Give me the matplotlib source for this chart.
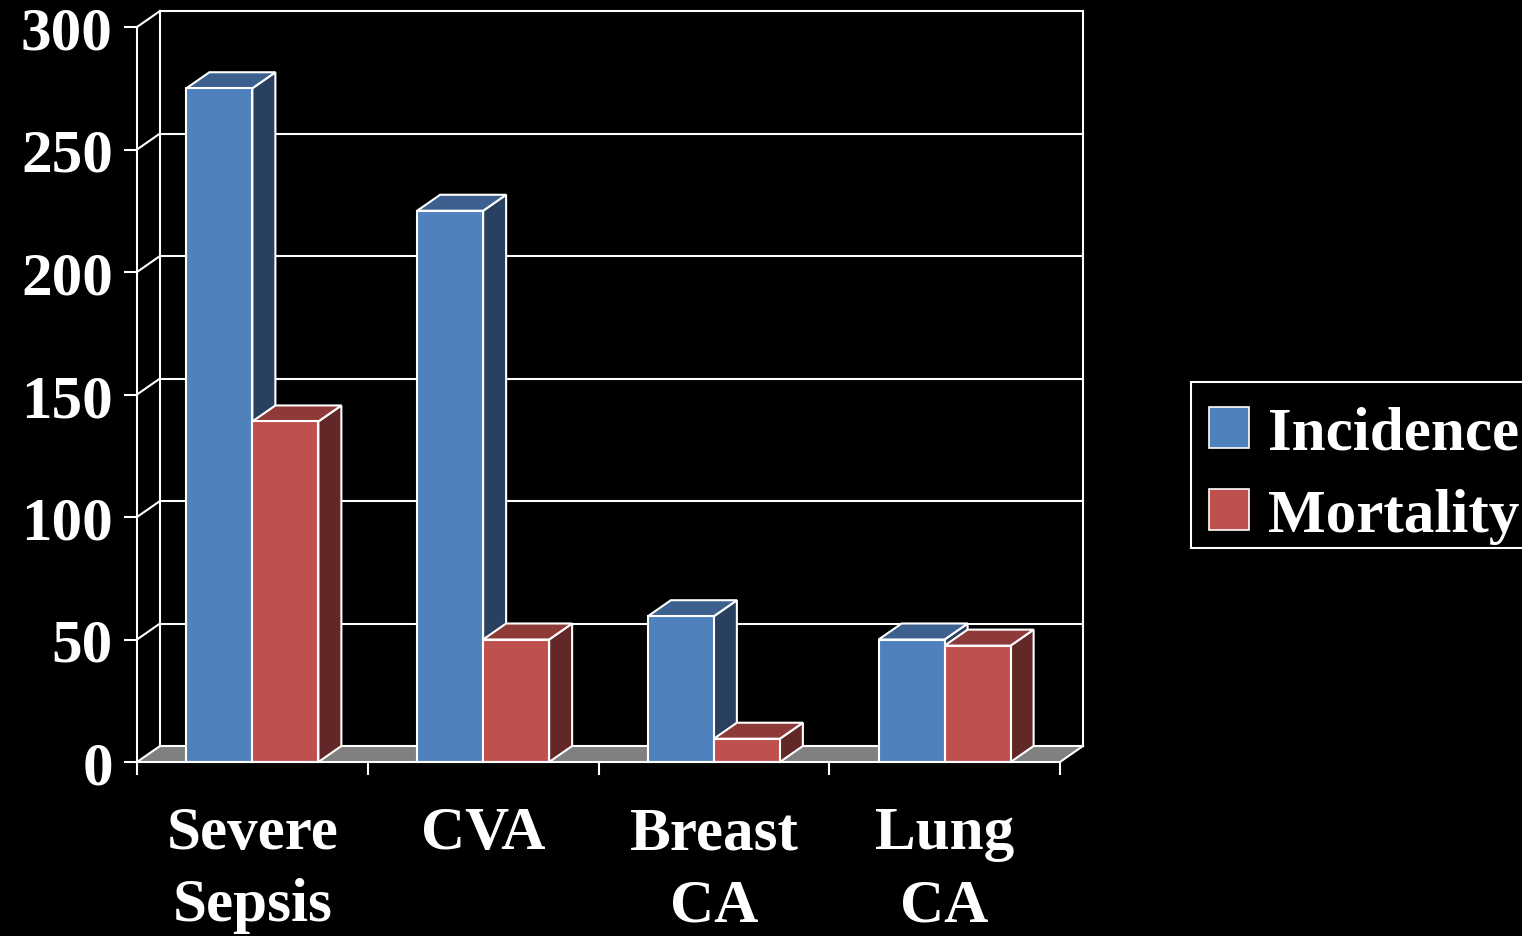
import matplotlib
matplotlib.use("Agg")
import matplotlib.pyplot as plt
from matplotlib.patches import Polygon, Rectangle, Patch
import numpy as np

# ---- data ----
categories = ["Severe\nSepsis", "CVA", "Breast\nCA", "Lung\nCA"]
series_names = ["Incidence", "Mortality"]
incidence = [275, 225, 59.5, 50]
mortality = [139, 50, 9.5, 47.5]
yticks = [0, 50, 100, 150, 200, 250, 300]

# ---- styles ----
front_colors = ["#4F81BD", "#C0504D"]
top_colors = ["#3C618E", "#8E3A39"]
side_colors = ["#2A405F", "#612827"]
floor_color = "#808080"
FONT = "Liberation Serif"

W, H = 1522, 937
fig = plt.figure(figsize=(W / 100, H / 100), dpi=100, facecolor="black")
ax = fig.add_axes([137 / W, 174 / H, 923 / W, 735 / H])
ax.set_facecolor("black")
ax.set_xlim(-0.5, 3.5)
ax.set_ylim(0, 300)

# depth offset (px -> data units)
px_x = 923 / 4.0
px_y = 735 / 300.0
ddx = 23 / px_x
ddy = 16 / px_y
lw = 1.5

# floor
x0, x1 = -0.5, 3.5
ax.add_patch(Polygon([(x0, 0), (x1, 0), (x1 + ddx, ddy), (x0 + ddx, ddy)],
                     closed=True, facecolor=floor_color, edgecolor="none",
                     zorder=1, clip_on=False))
# walls / gridlines
for v in yticks:
    ax.plot([x0 + ddx, x1 + ddx], [v + ddy, v + ddy], color="white", lw=lw,
            zorder=2, clip_on=False, solid_capstyle="projecting")
    ax.plot([x0, x0 + ddx], [v, v + ddy], color="white", lw=lw, zorder=2,
            clip_on=False)
ax.plot([x0 + ddx, x0 + ddx], [ddy, 300 + ddy], color="white", lw=lw, zorder=2, clip_on=False)
ax.plot([x1 + ddx, x1 + ddx], [ddy, 300 + ddy], color="white", lw=lw, zorder=2, clip_on=False)
ax.plot([x1, x1 + ddx], [0, ddy], color="white", lw=lw, zorder=2, clip_on=False)

# bars
bw = 66 / px_x
values = [incidence, mortality]
z = 3
for i in range(len(categories)):
    for j, vals in enumerate(values):
        v = vals[i]
        xl = i - bw + j * bw
        xr = xl + bw
        kw = dict(edgecolor="white", linewidth=lw, joinstyle="miter", clip_on=False)
        ax.add_patch(Polygon([(xr, 0), (xr + ddx, ddy), (xr + ddx, v + ddy), (xr, v)],
                             closed=True, facecolor=side_colors[j], zorder=z, **kw))
        ax.add_patch(Polygon([(xl, v), (xr, v), (xr + ddx, v + ddy), (xl + ddx, v + ddy)],
                             closed=True, facecolor=top_colors[j], zorder=z, **kw))
        ax.add_patch(Rectangle((xl, 0), bw, v, facecolor=front_colors[j], zorder=z + 0.5, **kw))
        z += 1

# axes styling
for s in ["top", "right"]:
    ax.spines[s].set_visible(False)
for s in ["left", "bottom"]:
    ax.spines[s].set_color("white")
    ax.spines[s].set_linewidth(lw)
    ax.spines[s].set_zorder(50)

ax.set_yticks(yticks)
ax.set_yticklabels([str(t) for t in yticks], fontfamily=FONT, fontweight="bold",
                   fontsize=44, color="white")
ax.tick_params(axis="y", direction="out", length=9.4, width=lw, color="white", pad=8)

ax.set_xticks(np.arange(-0.5, 4.0, 1.0))
ax.set_xticklabels([])
ax.tick_params(axis="x", which="major", direction="out", length=9, width=lw, color="white")
ax.set_xticks(np.arange(len(categories)), minor=True)
ax.set_xticklabels(categories, minor=True, fontfamily=FONT, fontweight="bold",
                   fontsize=44, color="white", linespacing=1.38)
ax.tick_params(axis="x", which="minor", length=0, pad=31)

# legend frame
fig.add_artist(Rectangle((1191 / W, 1 - 549 / H), 400 / W, 166 / H,
                         transform=fig.transFigure, facecolor="black",
                         edgecolor="white", linewidth=1.5, zorder=0.5))
# legend
handles = [Patch(facecolor=front_colors[k], edgecolor="white", linewidth=1.2)
           for k in range(2)]
leg = fig.legend(handles, series_names, loc="upper left",
                 bbox_to_anchor=(1209 / W, 1 - 407 / H), borderaxespad=0,
                 prop={"family": FONT, "weight": "bold", "size": 44},
                 frameon=False, handlelength=0.66, handleheight=0.66,
                 handletextpad=0.31, borderpad=0, labelspacing=0.43)
for t in leg.get_texts():
    t.set_color("white")

fig.savefig("out.png", dpi=100, facecolor="black")
